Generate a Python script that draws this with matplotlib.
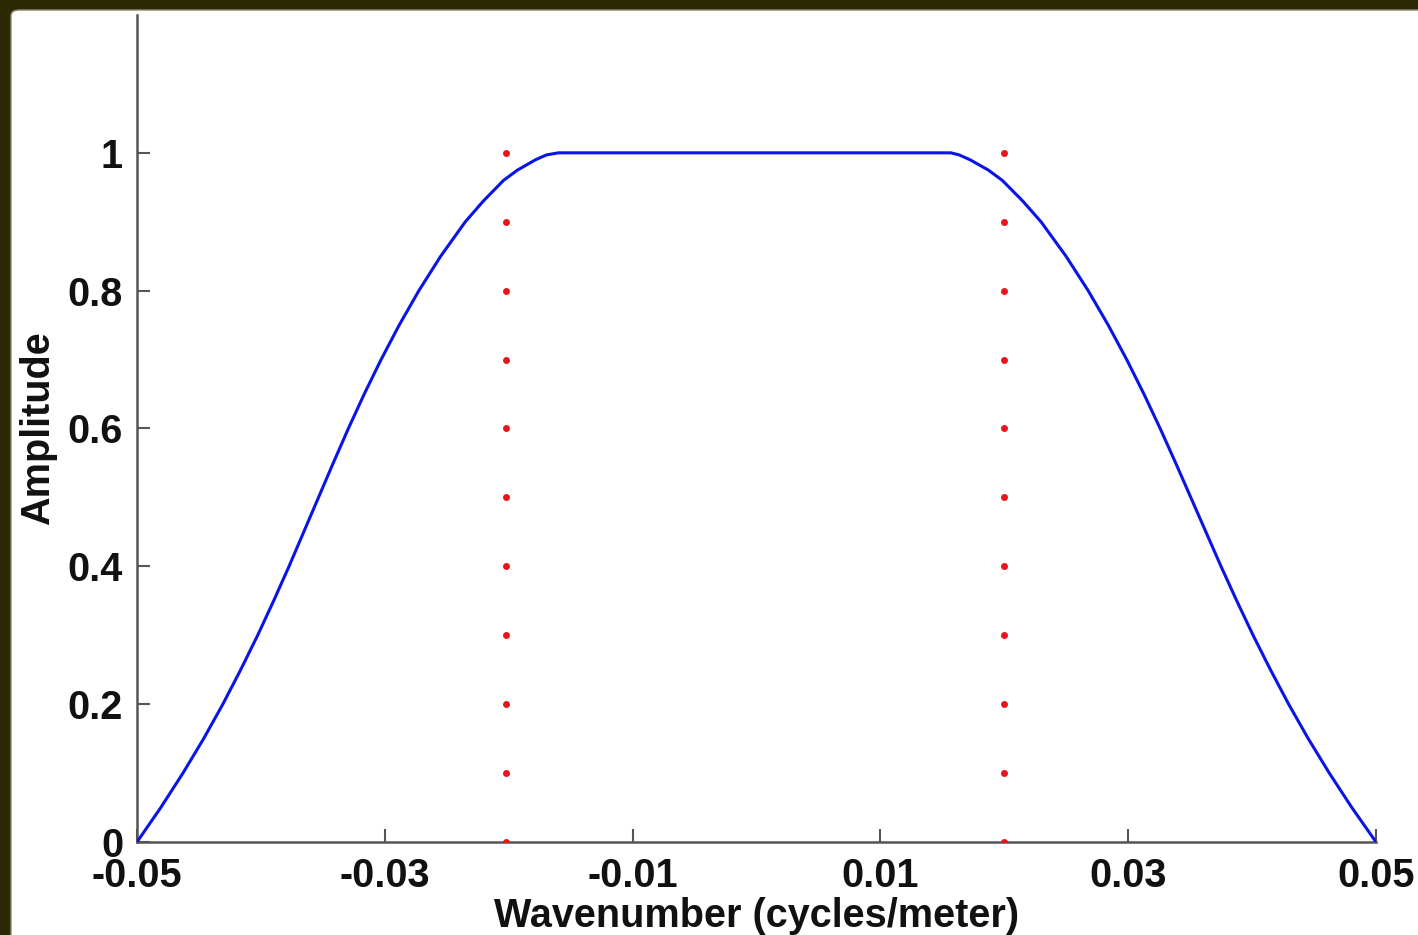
import matplotlib
matplotlib.use("Agg")
import matplotlib.pyplot as plt
from matplotlib.patches import FancyBboxPatch

# Filter response: wavenumber (cycles/meter) vs amplitude
wavenumber = [-0.05000, -0.04808, -0.04629, -0.04462, -0.04307, -0.04163,
              -0.04026, -0.03897, -0.03773, -0.03654, -0.03535, -0.03416,
              -0.03294, -0.03166, -0.03030, -0.02884, -0.02725, -0.02549,
              -0.02350, -0.02205, -0.02042, -0.01929, -0.01783, -0.01695,
              -0.01598,
              0.01570, 0.01635, 0.01723, 0.01871, 0.01984, 0.02149, 0.02296,
              0.02498, 0.02677, 0.02839, 0.02988, 0.03127, 0.03258, 0.03383,
              0.03505, 0.03627, 0.03749, 0.03876, 0.04008, 0.04148, 0.04295,
              0.04453, 0.04623, 0.04805, 0.05000]
amplitude = [0.000, 0.050, 0.100, 0.150, 0.200, 0.250,
             0.300, 0.350, 0.400, 0.450, 0.500, 0.550,
             0.600, 0.650, 0.700, 0.750, 0.800, 0.850,
             0.900, 0.930, 0.960, 0.975, 0.990, 0.997,
             1.000,
             1.000, 0.997, 0.990, 0.975, 0.960, 0.930, 0.900,
             0.850, 0.800, 0.750, 0.700, 0.650, 0.600, 0.550,
             0.500, 0.450, 0.400, 0.350, 0.300, 0.250, 0.200,
             0.150, 0.100, 0.050, 0.000]

# Pass-band edge markers
edge_left_x = -0.0202
edge_right_x = 0.0200
edge_levels = [0.0, 0.1, 0.2, 0.3, 0.4, 0.5, 0.6, 0.7, 0.8, 0.9, 1.0]

xticks = [-0.05, -0.03, -0.01, 0.01, 0.03, 0.05]
xtick_labels = ["-0.05", "-0.03", "-0.01", "0.01", "0.03", "0.05"]
yticks = [0, 0.2, 0.4, 0.6, 0.8, 1.0]
ytick_labels = ["0", "0.2", "0.4", "0.6", "0.8", "1"]

W, H, DPI = 1418, 935, 100
fig = plt.figure(figsize=(W / DPI, H / DPI), dpi=DPI)
fig.patch.set_facecolor("#2c2a04")

# white slide panel behind the axes
panel = FancyBboxPatch((11 / W, -0.05), 1.2, 1 - 10 / H + 0.05,
                       boxstyle="round,pad=0,rounding_size=0.006",
                       transform=fig.transFigure, facecolor="white",
                       edgecolor="#8a8a70", linewidth=1.0, zorder=-10)
fig.patches.append(panel)

ax = fig.add_axes([137 / W, 1 - 842 / H, (1376 - 137) / W, (842 - 15) / H])
ax.set_facecolor("none")
ax.set_zorder(5)

ax.plot(wavenumber, amplitude, color="#0a14e6", linewidth=2.2,
        solid_joinstyle="round", zorder=3)
ax.plot([edge_left_x] * len(edge_levels), edge_levels, linestyle="none",
        marker="o", markersize=5, color="#e8141e", markeredgewidth=0, zorder=4)
ax.plot([edge_right_x] * len(edge_levels), edge_levels, linestyle="none",
        marker="o", markersize=5, color="#e8141e", markeredgewidth=0, zorder=4)

ax.set_xlim(-0.05, 0.05)
ax.set_ylim(0, 1.2)

for side in ("top", "right"):
    ax.spines[side].set_visible(False)
for side in ("left", "bottom"):
    ax.spines[side].set_color("#555555")
    ax.spines[side].set_linewidth(1.8)

font = dict(family=["Liberation Sans", "DejaVu Sans"], weight="bold", size=28.5)

ax.set_xticks(xticks)
ax.set_xticklabels(xtick_labels, fontdict=font)
ax.set_yticks(yticks)
ax.set_yticklabels(ytick_labels, fontdict=font)
ax.tick_params(direction="in", length=9.5, width=1.5, color="#555555",
               labelcolor="#111111")
ax.tick_params(axis="x", pad=10.5)
ax.tick_params(axis="y", pad=10)

ax.set_xlabel("Wavenumber (cycles/meter)", fontdict=font, color="#111111",
              labelpad=2)
ax.set_ylabel("Amplitude", fontdict=font, color="#111111", labelpad=8)

fig.savefig("out.png", dpi=DPI, facecolor=fig.get_facecolor())
